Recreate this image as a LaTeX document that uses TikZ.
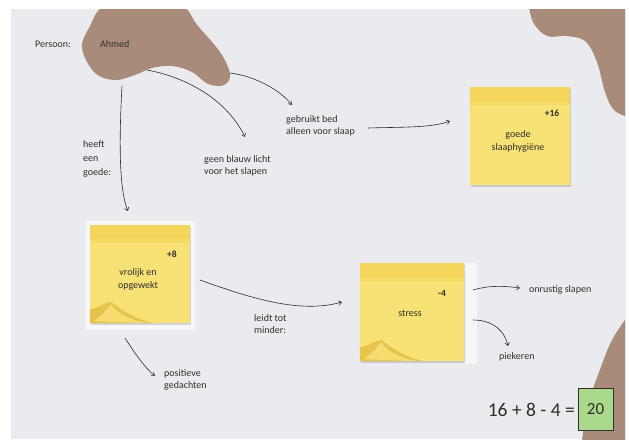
\documentclass[tikz,border=0pt]{standalone}
\usepackage{fontspec}
\setmainfont{Carlito}
\usetikzlibrary{arrows.meta,shadows,calc}
\definecolor{paper}{HTML}{E9EBEE}
\definecolor{blob}{HTML}{A88C79}
\definecolor{noteY}{HTML}{F8E275}
\definecolor{noteBand}{HTML}{F2D55A}
\definecolor{noteCurl}{HTML}{E6C34A}
\definecolor{noteCurlHi}{HTML}{F5DB70}
\definecolor{ink}{HTML}{2E2E2E}
\definecolor{boxgreen}{HTML}{AAD98C}
\tikzset{
  lbl/.style={font=\fontsize{10}{12.5}\selectfont, text=ink, inner sep=0pt, align=left, anchor=west},
  arr/.style={draw=ink, line width=0.6pt, -{Straight Barb[length=3pt,width=4.5pt]}},
  note/.style={fill=noteY, draw=none, inner sep=0pt, minimum height=98pt,
    drop shadow={shadow xshift=1pt, shadow yshift=-1.5pt, opacity=0.25, fill=black!60},
    path picture={
      \fill[noteBand] (path picture bounding box.north west) rectangle ([yshift=-14pt]path picture bounding box.north east);
      \fill[noteBand!70!noteY] ([yshift=-14pt]path picture bounding box.north west) rectangle ([yshift=-18pt]path picture bounding box.north east);
    }},
  score/.style={text=ink, font=\bfseries\fontsize{9.5}{10}\selectfont, inner sep=0pt},
  notetext/.style={text=ink, font=\fontsize{10}{13}\selectfont, align=center, inner sep=0pt},
}
\begin{document}
\begin{tikzpicture}[x=1pt,y=-1pt]
\useasboundingbox (0,0) rectangle (629,439);
\fill[white] (0,0) rectangle (629,439);
\fill[paper] (11,9) rectangle (625,439);
\draw[white!85!gray, line width=0.6pt] (11,9) rectangle (625,440);
\begin{scope}
  \clip (11,9) rectangle (625,439);
  % blob top-left
  \fill[blob] plot[smooth cycle, tension=0.6] coordinates {
    (82,48) (90,26) (104,6) (140,0) (180,4) (198,26) (220,52) (230,74) (224,85)
    (208,84) (192,72) (172,66) (152,68) (135,75) (115,80) (95,73)};
  % blob top-right
  \fill[blob] plot[smooth, tension=0.6] coordinates {
    (528,0) (533,22) (547,36) (566,36) (585,41) (597,62) (605,92) (614,110) (630,118)}
    -- (630,0) -- cycle;
  % blob bottom-right
  \fill[blob] plot[smooth, tension=0.6] coordinates {
    (630,313) (612,340) (598,375) (588,405) (582,440)} -- (630,440) -- cycle;
\end{scope}

% persoon
\node[lbl] (persoon) at (35,44) {Persoon:};
\node[lbl] (ahmed) at (100,44) {Ahmed};

% backing behind notes
\fill[white!60!paper] (86,221) rectangle (195,330);
\fill[white!55!paper] (464,263) rectangle (477,364);

% notes
\node[note, minimum width=100pt] (n1) at (520,136) {};
\node[note, minimum width=100pt] (n2) at (140,274) {};
\node[note, minimum width=104pt] (n3) at (412,312) {};

% curls
\foreach \n in {n2,n3}{
  \fill[noteCurl] (\n.south west) -- ([yshift=14pt]\n.south west)
    .. controls ([shift={(10pt,15pt)}]\n.south west) and ([shift={(16pt,22pt)}]\n.south west) .. ([shift={(22pt,21pt)}]\n.south west)
    .. controls ([shift={(30pt,14pt)}]\n.south west) and ([shift={(45pt,4pt)}]\n.south west) .. ([shift={(64pt,0pt)}]\n.south west) -- cycle;
  \fill[noteCurlHi] ([shift={(4pt,2pt)}]\n.south west)
    .. controls ([shift={(14pt,9pt)}]\n.south west) and ([shift={(18pt,16pt)}]\n.south west) .. ([shift={(22pt,19pt)}]\n.south west)
    .. controls ([shift={(24pt,12pt)}]\n.south west) and ([shift={(40pt,3pt)}]\n.south west) .. ([shift={(58pt,0pt)}]\n.south west) -- cycle;
}

\node[score] (s1) at (552,113) {+16};
\node[notetext] (t1) at (518,141) {goede\\slaaphygiëne};
\node[score] (s2) at (172,254) {+8};
\node[notetext] (t2) at (138,279) {vrolijk en\\opgewekt};
\node[score] (s3) at (442,293) {-4};
\node[notetext] (t3) at (410,313) {stress};

% labels
\node[lbl, font=\fontsize{10}{14}\selectfont] (heeft) at (83,159) {heeft\\een\\goede:};
\node[lbl] (geen) at (204,166) {geen blauw licht\\voor het slapen};
\node[lbl] (gebruikt) at (286,126) {gebruikt bed\\alleen voor slaap};
\node[lbl] (leidt) at (254,324) {leidt tot\\minder:};
\node[lbl] (positieve) at (164,380) {positieve\\gedachten};
\node[lbl] (onrustig) at (529,290) {onrustig slapen};
\node[lbl] (piekeren) at (499,357) {piekeren};

% equation
\node[text=ink, font=\fontsize{19.5}{20}\selectfont, inner sep=0pt, anchor=east] (eq) at (575,410) {16 + 8 - 4 =};
\node[fill=boxgreen, draw=ink, line width=0.9pt, minimum width=35pt, minimum height=42pt, inner sep=0pt,
  text=ink, font=\fontsize{17}{18}\selectfont] (res) at (595.5,409) {20};

% arrow coordinates
\coordinate (a1s) at (122,86);  \coordinate (a1e) at (128,211);
\coordinate (a2s) at (147,70);  \coordinate (a2e) at (245,137);
\coordinate (a3s) at (230,73);  \coordinate (a3e) at (292,105);
\coordinate (a4s) at (368,128); \coordinate (a4e) at (450,121);
\coordinate (a5s) at (200,280); \coordinate (a5e) at (342,302);
\coordinate (a6s) at (473,290); \coordinate (a6e) at (520,288);
\coordinate (a7s) at (473,320); \coordinate (a7e) at (508,346);
\coordinate (a8s) at (125,338); \coordinate (a8e) at (155,376);

\draw[arr] (a1s) .. controls (119,140) and (119,190) .. (a1e);
\draw[arr] (a2s) .. controls (190,78) and (228,102) .. (a2e);
\draw[arr] (a3s) .. controls (255,76) and (280,90) .. (a3e);
\draw[arr] (a4s) .. controls (400,127) and (432,128) .. (a4e);
\draw[arr] (a5s) .. controls (250,298) and (300,314) .. (a5e);
\draw[arr] (a6s) .. controls (490,285) and (505,286) .. (a6e);
\draw[arr] (a7s) .. controls (494,320) and (505,332) .. (a7e);
\draw[arr] (a8s) .. controls (134,352) and (145,368) .. (a8e);
\end{tikzpicture}
\end{document}
